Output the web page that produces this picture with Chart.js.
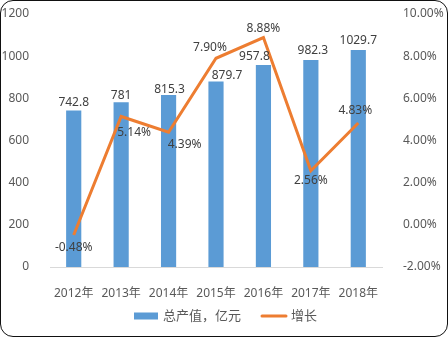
<!DOCTYPE html>
<html>
<head>
<meta charset="utf-8">
<script src="https://cdn.jsdelivr.net/npm/chart.js@4"></script>
<style>
  html, body { margin: 0; padding: 0; background: #fff; }
  #wrap { position: relative; width: 448px; height: 337px; }
  #wrap canvas { position: absolute; left: 0; top: 0; }
  #frame {
    position: absolute; left: 0; top: 0; width: 448px; height: 337px;
    box-sizing: border-box; border: 1.5px solid #111; border-radius: 13px;
    pointer-events: none;
  }
</style>
</head>
<body>
<div id="wrap">
  <canvas id="chart" width="448" height="337"></canvas>
  <div id="frame"></div>
</div>
<script>
const years = ['2012年', '2013年', '2014年', '2015年', '2016年', '2017年', '2018年'];
const output = [742.8, 781, 815.3, 879.7, 957.8, 982.3, 1029.7];
const growth = [-0.48, 5.14, 4.39, 7.90, 8.88, 2.56, 4.83];
const leftTicks = [0, 200, 400, 600, 800, 1000, 1200];
const rightTicks = [-2, 0, 2, 4, 6, 8, 10];

// label nudges (dx, dy) relative to the bar top / line point
const outputLabelShift = [[0, -8], [0, -7], [1, -6], [11, -6], [-9, -8], [2, -9], [0, -9]];
const growthLabelShift = [[0, 13], [13, 16], [16, 12], [-6, -11], [0, -9], [0, 10], [-3, -12]];

const FONT = '"Noto Sans", "Noto Sans CJK SC", sans-serif';
const BLUE = '#5B9BD5';
const ORANGE = '#ED7D31';

const valueLabels = {
  id: 'valueLabels',
  afterDatasetsDraw(chart) {
    const ctx = chart.ctx;
    ctx.save();
    ctx.font = '12px ' + FONT;
    ctx.fillStyle = '#404040';
    ctx.textAlign = 'center';
    ctx.textBaseline = 'middle';
    chart.getDatasetMeta(1).data.forEach((bar, i) => {
      const [dx, dy] = outputLabelShift[i];
      ctx.fillText(String(output[i]), bar.x + dx, bar.y + dy);
    });
    chart.getDatasetMeta(0).data.forEach((pt, i) => {
      const [dx, dy] = growthLabelShift[i];
      ctx.fillText(growth[i].toFixed(2) + '%', pt.x + dx, pt.y + dy);
    });
    ctx.restore();
  }
};

const bottomLegend = {
  id: 'bottomLegend',
  afterDraw(chart) {
    const ctx = chart.ctx;
    const y = 316;
    ctx.save();
    ctx.fillStyle = BLUE;
    ctx.fillRect(134, y - 3.5, 24, 7);
    ctx.strokeStyle = ORANGE;
    ctx.lineWidth = 3;
    ctx.lineCap = 'round';
    ctx.beginPath();
    ctx.moveTo(262, y);
    ctx.lineTo(286, y);
    ctx.stroke();
    ctx.font = '13px ' + FONT;
    ctx.fillStyle = '#595959';
    ctx.textBaseline = 'middle';
    ctx.textAlign = 'left';
    ctx.fillText('总产值，亿元', 163, y);
    ctx.fillText('增长', 291, y);
    ctx.restore();
  }
};

// fixed widths for the value axes, and no extra room above/below their labels
function fitSide(width) {
  return scale => {
    scale.width = width;
    scale.paddingTop = 0;
    scale.paddingBottom = 0;
  };
}

new Chart(document.getElementById('chart'), {
  data: {
    labels: years,
    datasets: [
      {
        type: 'line',
        label: '增长',
        data: growth,
        yAxisID: 'y1',
        borderColor: ORANGE,
        borderWidth: 3,
        pointRadius: 0,
        tension: 0,
        order: 0
      },
      {
        type: 'bar',
        label: '总产值，亿元',
        data: output,
        yAxisID: 'y',
        backgroundColor: BLUE,
        barPercentage: 0.64,
        categoryPercentage: 0.5,
        order: 1
      }
    ]
  },
  options: {
    responsive: false,
    animation: false,
    layout: { padding: { top: 14, left: 0, right: 0, bottom: 0 } },
    plugins: { legend: { display: false }, tooltip: { enabled: false } },
    scales: {
      x: {
        grid: { display: false },
        border: { color: '#D9D9D9', width: 1 },
        ticks: { color: '#595959', font: { family: FONT, size: 12 }, padding: 11, maxRotation: 0 },
        afterFit(scale) { scale.height = 70; }
      },
      y: {
        position: 'left',
        min: leftTicks[0],
        max: leftTicks[leftTicks.length - 1],
        grid: { display: false },
        border: { display: false },
        afterBuildTicks(scale) { scale.ticks = leftTicks.map(v => ({ value: v })); },
        ticks: {
          color: '#595959',
          font: { family: FONT, size: 12 },
          padding: 13,
          callback: v => String(v)
        },
        afterFit: fitSide(50)
      },
      y1: {
        position: 'right',
        min: rightTicks[0],
        max: rightTicks[rightTicks.length - 1],
        grid: { display: false },
        border: { display: false },
        afterBuildTicks(scale) { scale.ticks = rightTicks.map(v => ({ value: v })); },
        ticks: {
          color: '#595959',
          font: { family: FONT, size: 12 },
          padding: 13,
          callback: v => v.toFixed(2) + '%'
        },
        afterFit: fitSide(66)
      }
    }
  },
  plugins: [valueLabels, bottomLegend]
});
</script>
</body>
</html>
